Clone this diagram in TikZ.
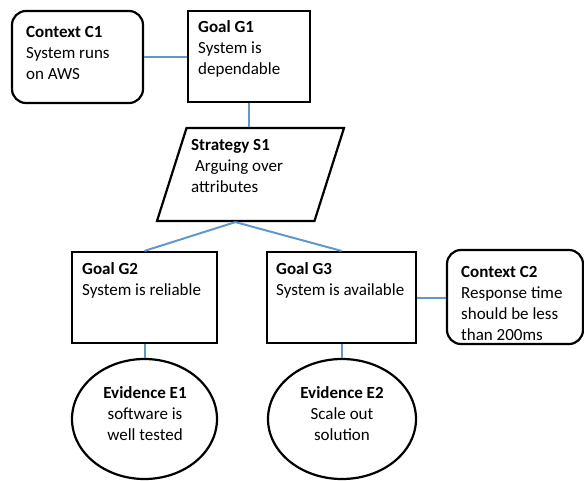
\documentclass[tikz,border=0pt]{standalone}
\usepackage{fontspec}
\setmainfont{Carlito}
\usepackage{xcolor}
\usepackage{tikz}
\usetikzlibrary{shapes.geometric, positioning}
\definecolor{linkblue}{RGB}{96,151,206}

\begin{document}
\begin{tikzpicture}[x=1pt, y=-1pt,
        box/.style={draw, line width=2.2pt, inner sep=0pt},
        goal/.style={box, rectangle, minimum height=91pt},
        context/.style={box, rectangle, rounded corners=14pt},
        strategy/.style={box, trapezium, inner sep=2pt, trapezium left angle=77, trapezium right angle=103,
            trapezium stretches=true, minimum width=187pt, minimum height=93pt},
        evidence/.style={box, ellipse, minimum height=120pt},
        txt/.style={inner sep=0pt, align=left, font=\fontsize{17}{20.8}\selectfont},
        link/.style={draw=linkblue, line width=2pt}
    ]
    \useasboundingbox (0,0) rectangle (584,480);

    \node[context, minimum width=131pt, minimum height=92pt] (c1) at (77.5,57) {};
    \node[goal, minimum width=122pt] (g1) at (249,56.5) {};
    \node[strategy] (s1) at (250.5,174.5) {};
    \node[goal, minimum width=145pt] (g2) at (144.5,297.5) {};
    \node[goal, minimum width=149pt] (g3) at (341.5,297.5) {};
    \node[context, minimum width=136pt, minimum height=94pt] (c2) at (515,297) {};
    \node[evidence, minimum width=145pt] (e1) at (144.5,419) {};
    \node[evidence, minimum width=148pt] (e2) at (342,419) {};

    \node[txt, anchor=base west] (c1txt) at (26,79) {\textbf{Context C1}\\System runs\\on AWS};
    \node[txt, anchor=base west] (g1txt) at (198,74) {\textbf{Goal G1}\\System is\\dependable};
    \node[txt, anchor=base west] (s1txt) at (191,192) {\textbf{Strategy S1}\\\ Arguing over\\attributes};
    \node[txt, anchor=base west] (g2txt) at (82,295) {\textbf{Goal G2}\\System is reliable};
    \node[txt, anchor=base west] (g3txt) at (276,295) {\textbf{Goal G3}\\System is available};
    \node[txt, anchor=base west] (c2txt) at (461,340) {\textbf{Context C2}\\Response time\\should be less\\than 200ms};
    \node[txt, align=center, anchor=base] (e1txt) at (145,440) {\textbf{Evidence E1}\\software is\\well tested};
    \node[txt, align=center, anchor=base] (e2txt) at (342,440) {\textbf{Evidence E2}\\Scale out\\solution};

    \draw[link] (c1.east) -- (c1.east -| g1.west);
    \draw[link] (g1.south) -- (g1.south |- s1.north);
    \draw[link] (s1.bottom side) -- (g2.north);
    \draw[link] (s1.bottom side) -- (g3.north);
    \draw[link] (g3.east) -- (g3.east -| c2.west);
    \draw[link] (g2.south) -- (e1.north);
    \draw[link] (g3.south) -- (g3.south |- e2.north);
\end{tikzpicture}
\end{document}
